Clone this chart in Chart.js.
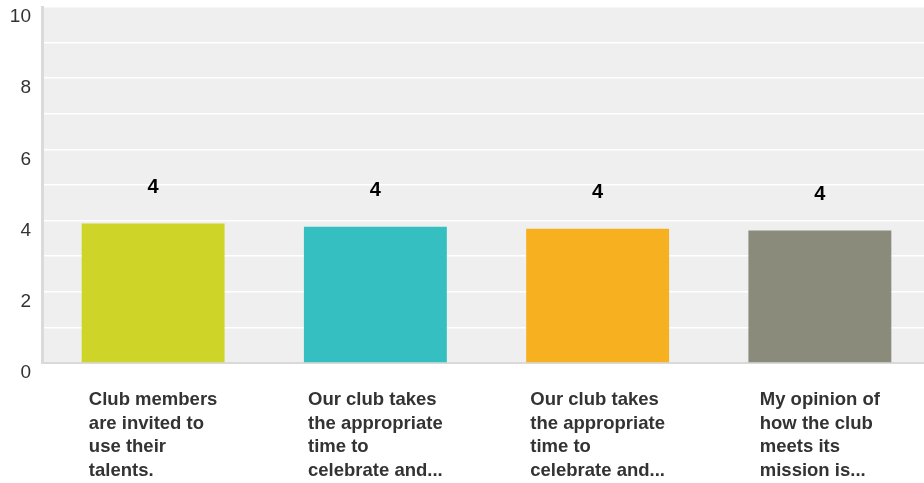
<!DOCTYPE html>
<html>
<head>
<meta charset="utf-8">
<script src="https://cdn.jsdelivr.net/npm/chart.js@4/dist/chart.umd.min.js"></script>
<style>
  html, body { margin: 0; padding: 0; background: #fff; overflow: hidden; }
  #wrap { width: 931px; height: 483px; }
</style>
</head>
<body>
<div id="wrap"><canvas id="myChart"></canvas></div>
<script>
// data
const categories = [
  ["Club members", "are invited to", "use their", "talents."],
  ["Our club takes", "the appropriate", "time to", "celebrate and..."],
  ["Our club takes", "the appropriate", "time to", "celebrate and..."],
  ["My opinion of", "how the club", "meets its", "mission is..."]
];
const values = [3.92, 3.83, 3.77, 3.72];
const colors = ["#cfd428", "#35bfc0", "#f7b01f", "#8a8b7a"];
const yMin = 0;
const yMax = 10;

// grey plot background
const plotBg = {
  id: "plotBg",
  beforeDraw(chart) {
    const { ctx, chartArea: a } = chart;
    ctx.save();
    ctx.fillStyle = "#efefef";
    ctx.fillRect(a.left, a.top, a.right - a.left, a.bottom - a.top);
    ctx.restore();
  }
};

// rounded value above every bar
const valueLabels = {
  id: "valueLabels",
  afterDatasetsDraw(chart) {
    const ctx = chart.ctx;
    const meta = chart.getDatasetMeta(0);
    ctx.save();
    ctx.font = "bold 20px 'Liberation Sans', Arial, sans-serif";
    ctx.fillStyle = "#000";
    ctx.textAlign = "center";
    ctx.textBaseline = "middle";
    meta.data.forEach((bar, i) => {
      ctx.fillText(String(Math.round(values[i])), bar.x, bar.y - 36);
    });
    ctx.restore();
  }
};

// category labels: left aligned block centred under each bar
const catLabels = {
  id: "catLabels",
  afterDraw(chart) {
    const ctx = chart.ctx;
    const x = chart.scales.x;
    ctx.save();
    ctx.font = "bold 18.5px 'Liberation Sans', Arial, sans-serif";
    ctx.fillStyle = "#333";
    ctx.textAlign = "left";
    ctx.textBaseline = "alphabetic";
    categories.forEach((lines, i) => {
      const cx = x.getPixelForValue(i);
      const w = Math.max(...lines.map(l => ctx.measureText(l).width));
      lines.forEach((l, j) => {
        ctx.fillText(l, cx - w / 2, 405 + j * 23.5);
      });
    });
    ctx.restore();
  }
};

new Chart(document.getElementById("myChart"), {
  type: "bar",
  data: {
    labels: categories.map(c => c.join(" ")),
    datasets: [{
      data: values,
      backgroundColor: colors,
      borderWidth: 0,
      categoryPercentage: 1,
      barPercentage: 0.643
    }]
  },
  options: {
    responsive: true,
    maintainAspectRatio: false,
    animation: false,
    layout: { padding: { top: 7, right: 0, left: 0, bottom: 0 } },
    plugins: {
      legend: { display: false },
      tooltip: { enabled: false }
    },
    scales: {
      x: {
        afterFit(scale) { scale.height = 120; },
        ticks: { display: false },
        grid: { display: false },
        border: { display: true, color: "#d9d9d9", width: 2 }
      },
      y: {
        min: yMin,
        max: yMax,
        afterFit(scale) {
          scale.width = 42;
          scale.paddingTop = 0;
          scale.paddingBottom = 0;
        },
        ticks: {
          stepSize: 1,
          padding: 11,
          labelOffset: 10,
          color: "#333",
          font: { family: "'Liberation Sans', Arial, sans-serif", size: 19 },
          callback: v => (v % 2 === 0 ? v : "")
        },
        grid: { color: "#ffffff", lineWidth: 1.5, drawTicks: false },
        border: { display: true, color: "#dadada", width: 3 }
      }
    }
  },
  plugins: [plotBg, valueLabels, catLabels]
});
</script>
</body>
</html>
